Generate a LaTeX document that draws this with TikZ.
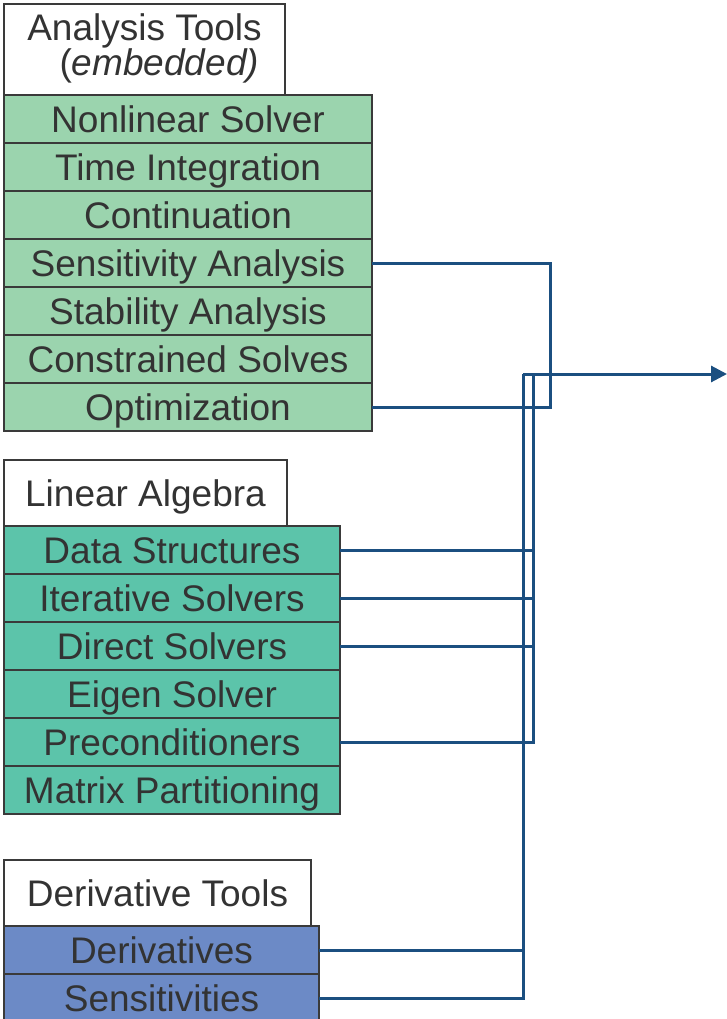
\documentclass[tikz,border=0pt]{standalone}
\usepackage{fontspec}
\setmainfont{Liberation Sans}
\usepackage{tikz}
\usetikzlibrary{arrows.meta,positioning}
\definecolor{Edge}    {HTML}{3A3A3A}
\definecolor{Ink}     {HTML}{333333}
\definecolor{AnaGreen}{HTML}{9BD4AE}
\definecolor{LinTeal} {HTML}{5CC4AA}
\definecolor{DerBlue} {HTML}{6C8AC6}
\definecolor{Wire}    {HTML}{1B4F80}
\begin{document}
\begin{tikzpicture}[x=1pt,y=-1pt,
  cell/.style={draw=Edge,rectangle,line width=2pt,minimum height=48pt,
    font=\fontsize{37}{35}\selectfont\color{Ink},text height=26.5pt,text depth=0pt,
    inner sep=0pt,outer sep=0pt},
  head/.style={cell,fill=white,align=center,anchor=south west},
  ana/.style={cell,fill=AnaGreen,minimum width=368pt},
  lin/.style={cell,fill=LinTeal,minimum width=336pt},
  der/.style={cell,fill=DerBlue,minimum width=315pt},
  link/.style={draw=Wire,line width=3pt},
  node distance=0pt
]
\useasboundingbox (0,0) rectangle (727,1019);
% analysis tools
\node[ana,anchor=north west](a1) at (4,95){Nonlinear Solver};
\node[ana,below=of a1](a2){Time Integration};
\node[ana,below=of a2](a3){Continuation};
\node[ana,below=of a3](a4){Sensitivity Analysis};
\node[ana,below=of a4](a5){Stability Analysis};
\node[ana,below=of a5](a6){Constrained Solves};
\node[ana,below=of a6](a7){Optimization};
\node[head,minimum width=281pt,minimum height=91pt,text height=61.5pt,text depth=9.5pt](ah)
  at (a1.north west){Analysis Tools\\\hspace*{0.8em}(\textit{embedded)}};
% linear algebra
\node[lin,anchor=north west](l1) at (4,526){Data Structures};
\node[lin,below=of l1](l2){Iterative Solvers};
\node[lin,below=of l2](l3){Direct Solvers};
\node[lin,below=of l3](l4){Eigen Solver};
\node[lin,below=of l4](l5){Preconditioners};
\node[lin,below=of l5](l6){Matrix Partitioning};
\node[head,minimum width=283pt,minimum height=66pt](lh) at (l1.north west){Linear Algebra};
% derivative tools
\node[der,anchor=north west](d1) at (4,926){Derivatives};
\node[der,below=of d1](d2){Sensitivities};
\node[head,minimum width=307pt,minimum height=66pt](dh) at (d1.north west){Derivative Tools};
% connectors
\coordinate (ja) at (533,374);
\coordinate (jb) at (523,374);
\coordinate (tip) at (727,374);
\draw[link](a4.east) -- ++(178,0) |- (a7.east);
\draw[link](l1.east) -| (ja);\draw[link](l2.east) -| (ja);
\draw[link](l3.east) -| (ja);\draw[link](l5.east) -| (ja);
\draw[link](d1.east) -| (jb);\draw[link](d2.east) -| (jb);
\draw[link,-{Triangle[length=16pt,width=16pt]}](jb) -- (tip);
\end{tikzpicture}
\end{document}
